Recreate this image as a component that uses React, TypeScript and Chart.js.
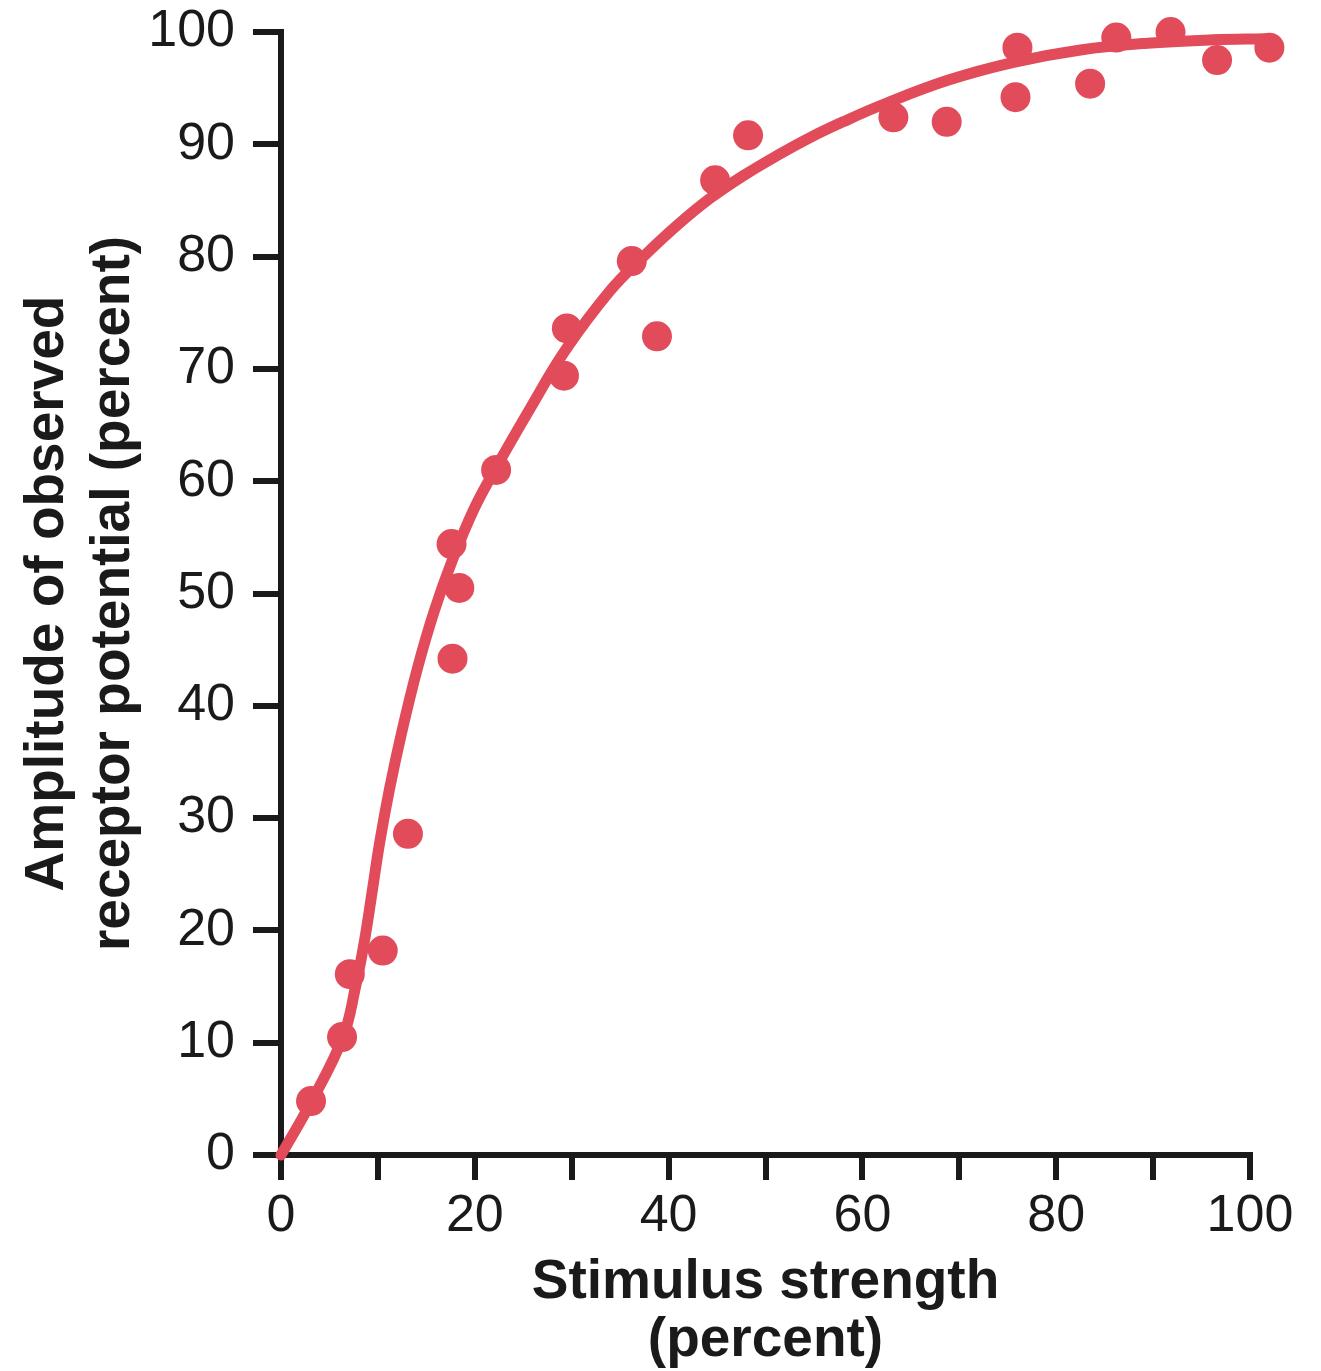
import React, { useEffect, useRef } from 'react';
import { Chart, registerables } from 'chart.js';

Chart.register(...registerables);

// Observed data points (stimulus strength %, amplitude %)
const pointX = [3.1, 6.3, 7.1, 10.5, 13.1, 17.6, 18.4, 17.7, 22.2, 29.2, 29.5, 36.2, 38.8, 44.8, 48.2, 63.2, 68.7, 75.8, 76.0, 83.5, 86.2, 91.8, 96.6, 102.0];
const pointY = [4.8, 10.5, 16.1, 18.2, 28.6, 54.4, 50.5, 44.2, 61.0, 69.4, 73.6, 79.6, 72.9, 86.8, 90.8, 92.4, 92.0, 94.2, 98.6, 95.4, 99.5, 100.0, 97.5, 98.6];

// Fitted curve
const curveX = [0, 3.1, 6.4, 7.7, 8.6, 9.4, 10.2, 11.2, 12.5, 14.1, 15.8, 17.7, 19.9, 22.2, 25.8, 29.3, 34.0, 37.4, 40.9, 44.3, 47.7, 51.2, 54.6, 58.0, 62.0, 68.8, 75.6, 82.5, 89.4, 96.2, 101.5];
const curveY = [0, 4.7, 10.5, 15.0, 19.0, 23.4, 27.9, 32.6, 37.8, 43.4, 48.4, 53.0, 57.5, 61.2, 66.6, 71.6, 77.0, 80.0, 82.8, 85.2, 87.2, 89.0, 90.6, 92.0, 93.5, 95.7, 97.3, 98.4, 99.0, 99.3, 99.4];

const xTickLabels = [0, 20, 40, 60, 80, 100];
const yTickLabels = [0, 10, 20, 30, 40, 50, 60, 70, 80, 90, 100];

const xTitle = ['Stimulus strength', '(percent)'];
const yTitle = ['Amplitude of observed', 'receptor potential (percent)'];

const RED = '#e14b5a';
const INK = '#1a1a1a';
const FAMILY = '"Liberation Sans", Arial, Helvetica, sans-serif';

// Lets marks that sit just past the axis ends (e.g. the point at x = 102) be drawn.
const widenMarkArea = {
  id: 'widenMarkArea',
  beforeDatasetsDraw(chart: any) {
    const a = chart.chartArea;
    chart.$savedArea = { left: a.left, right: a.right, top: a.top, bottom: a.bottom, width: a.width, height: a.height };
    a.left -= 60;
    a.right += 60;
    a.top -= 60;
    a.bottom += 60;
    a.width = a.right - a.left;
    a.height = a.bottom - a.top;
  },
  afterDatasetsDraw(chart: any) {
    const s = chart.$savedArea;
    if (s) Object.assign(chart.chartArea, s);
  },
};

export default function App() {
  const ref = useRef<HTMLCanvasElement | null>(null);

  useEffect(() => {
    if (!ref.current) return;
    const chart = new Chart(ref.current, {
      type: 'scatter',
      data: {
        datasets: [
          {
            label: 'fit',
            data: curveX.map((x, i) => ({ x, y: curveY[i] })),
            showLine: true,
            borderColor: RED,
            backgroundColor: RED,
            borderWidth: 11,
            pointRadius: 0,
            pointHoverRadius: 0,
            tension: 0.4,
            borderCapStyle: 'round',
            borderJoinStyle: 'round',
            clip: false,
          } as any,
          {
            label: 'observed',
            data: pointX.map((x, i) => ({ x, y: pointY[i] })),
            backgroundColor: RED,
            borderColor: RED,
            borderWidth: 0,
            pointRadius: 15,
            pointHoverRadius: 15,
            clip: false,
          } as any,
        ],
      },
      plugins: [widenMarkArea],
      options: {
        animation: false,
        responsive: false,
        events: [],
        layout: { padding: { left: 0, top: 32, right: 71, bottom: 0 } },
        plugins: {
          legend: { display: false },
          tooltip: { enabled: false },
        },
        scales: {
          x: {
            type: 'linear',
            min: 0,
            max: 100,
            ticks: {
              stepSize: 10,
              autoSkip: false,
              maxRotation: 0,
              padding: 5,
              color: INK,
              font: { size: 52, family: FAMILY },
              callback: (v: any) => (xTickLabels.includes(Number(v)) ? String(v) : ''),
            },
            grid: {
              drawOnChartArea: false,
              drawTicks: true,
              tickLength: 25,
              lineWidth: 6,
              tickWidth: 6,
              color: INK,
              tickColor: INK,
            },
            border: { display: true, color: INK, width: 6 },
            title: {
              display: true,
              text: xTitle,
              color: INK,
              font: { size: 55, weight: 'bold', family: FAMILY, lineHeight: 1.04 },
              padding: { top: 0, bottom: 2 },
            },
            afterFit: (s: any) => {
              s.height = 216;
              s.paddingLeft = 0;
              s.paddingRight = 0;
            },
          },
          y: {
            type: 'linear',
            min: 0,
            max: 100,
            ticks: {
              stepSize: 10,
              autoSkip: false,
              padding: 18,
              color: INK,
              font: { size: 52, family: FAMILY },
              callback: (v: any) => (yTickLabels.includes(Number(v)) ? String(v) : ''),
            },
            grid: {
              drawOnChartArea: false,
              drawTicks: true,
              tickLength: 28,
              lineWidth: 6,
              tickWidth: 6,
              color: INK,
              tickColor: INK,
            },
            border: { display: true, color: INK, width: 6 },
            title: {
              display: true,
              text: yTitle,
              color: INK,
              font: { size: 55, weight: 'bold', family: FAMILY, lineHeight: 1.2 },
              padding: { top: 15, bottom: 0 },
            },
            afterFit: (s: any) => {
              s.width = 281;
              s.paddingTop = 0;
              s.paddingBottom = 0;
            },
          },
        },
      } as any,
    });
    return () => chart.destroy();
  }, []);

  return (
    <div style={{ position: 'absolute', left: 0, top: 0, width: 1321, height: 1371, background: '#fff' }}>
      <canvas ref={ref} width={1321} height={1371} style={{ display: 'block', width: 1321, height: 1371 }} />
    </div>
  );
}
